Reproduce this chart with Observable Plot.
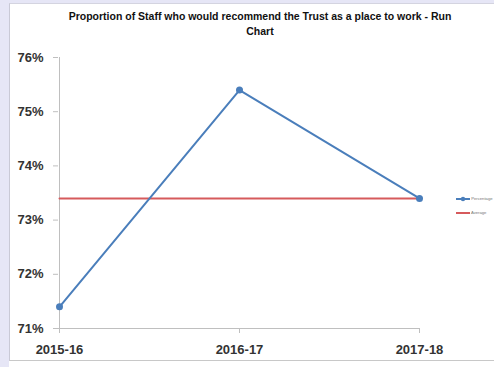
<!DOCTYPE html>
<html>
<head>
<meta charset="utf-8">
<script src="https://cdn.jsdelivr.net/npm/d3@7"></script>
<script src="https://cdn.jsdelivr.net/npm/@observablehq/plot@0.6"></script>
<style>
  html, body { margin: 0; padding: 0; background: #ffffff; overflow: hidden; }
  #wrap { position: relative; width: 494px; height: 367px; }
  .band-left { position: absolute; left: 0; top: 0; width: 9px; height: 367px; background: #e6e6f6; }
  .band-top { position: absolute; left: 0; top: 0; width: 494px; height: 3px; background: #e6e6f6; }
  .sheet { position: absolute; left: 9px; top: 3px; width: 485px; height: 358px; background: #ffffff;
           border-left: 1px solid #c9c9d6; border-top: 1px solid #d4d4e0; border-bottom: 1px solid #c8c8c8; box-sizing: border-box; }
  #title { position: absolute; left: 0; top: 9px; width: 520px; text-align: center;
           font: bold 10.5px "Liberation Sans", Arial, sans-serif; line-height: 15px; color: #111; }
  #chart { position: absolute; left: 0; top: 0; }
  .legend { position: absolute; left: 456px; font: 4.2px "Liberation Sans", Arial, sans-serif; color: #777; white-space: nowrap; }
  .legend svg { vertical-align: middle; }
</style>
</head>
<body>
<div id="wrap">
  <div class="band-left"></div>
  <div class="band-top"></div>
  <div class="sheet"></div>
  <div id="chart"></div>
  <div id="title">Proportion of Staff who would recommend the Trust as a place to work - Run<br>Chart</div>
  <div class="legend" id="leg1" style="top:196px"></div>
  <div class="legend" id="leg2" style="top:210px"></div>
</div>
<script>
// Survey years and the share of staff recommending the Trust
const years = ["2015-16", "2016-17", "2017-18"];
const percentage = [0.714, 0.754, 0.734];
// Average across the three surveys
const average = [0.734, 0.734, 0.734];
// Y axis ticks
const yTicks = [0.71, 0.72, 0.73, 0.74, 0.75, 0.76];

const blue = "#4a7ebb";
const red = "#d65a5c";
const axisGray = "#bfbfbf";

const rows = years.map((year, i) => ({year, pct: percentage[i], avg: average[i]}));

const chart = Plot.plot({
  width: 494,
  height: 367,
  marginLeft: 58,
  marginRight: 75,
  marginTop: 57,
  marginBottom: 39,
  style: {
    background: "transparent",
    fontFamily: "'Liberation Sans', Arial, sans-serif",
    fontSize: "13px",
    fontWeight: "bold",
    color: "#333"
  },
  x: {type: "point", domain: years, padding: 0, label: null},
  y: {domain: [0.71, 0.76], label: null},
  marks: [
    Plot.ruleX([years[0]], {stroke: axisGray}),
    Plot.ruleY([0.71], {stroke: axisGray}),
    Plot.axisY({ticks: yTicks, tickFormat: d3.format(".0%"), tickSize: 5, tickPadding: 10,
                stroke: axisGray, fill: "#333", label: null}),
    Plot.axisX({tickSize: 5, tickPadding: 11, stroke: axisGray, fill: "#333", label: null}),
    Plot.lineY(rows, {x: "year", y: "avg", stroke: red, strokeWidth: 2}),
    Plot.lineY(rows, {x: "year", y: "pct", stroke: blue, strokeWidth: 2}),
    Plot.dot(rows, {x: "year", y: "pct", r: 3.5, fill: blue, stroke: "none"})
  ]
});
document.getElementById("chart").append(chart);

// Legend entries at the right edge
function swatch(color, withDot) {
  return `<svg width="14" height="6"><line x1="0" x2="14" y1="3" y2="3" stroke="${color}" stroke-width="2"/>` +
    (withDot ? `<circle cx="7" cy="3" r="2.2" fill="${color}"/>` : "") + `</svg>`;
}
document.getElementById("leg1").innerHTML = swatch(blue, true) + " Percentage";
document.getElementById("leg2").innerHTML = swatch(red, false) + " Average";
</script>
</body>
</html>
